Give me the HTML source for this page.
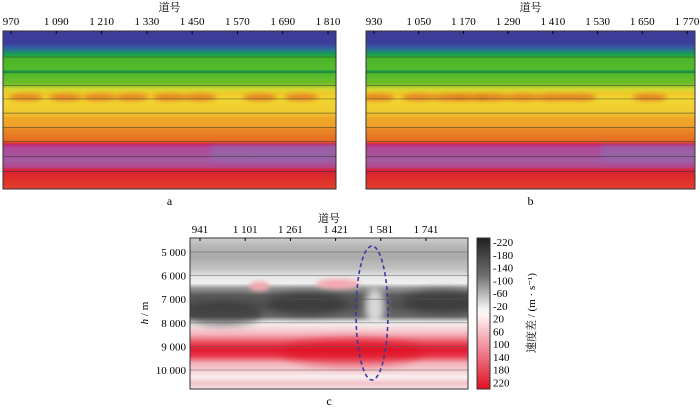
<!DOCTYPE html>
<html><head><meta charset="utf-8"><style>
body{margin:0;background:#fff;width:700px;height:408px;overflow:hidden}
svg{font-family:"Liberation Serif","Noto Serif CJK SC",serif}
</style></head><body>
<svg id="s" width="700" height="408" viewBox="0 0 700 408">
<defs>
<filter id="bl" x="-50%" y="-50%" width="200%" height="200%"><feGaussianBlur stdDeviation="2.5"/></filter>
<filter id="bl2" x="-50%" y="-50%" width="200%" height="200%"><feGaussianBlur stdDeviation="4"/></filter>
</defs>
</svg>
<script>
// data
const aTicks=["970","1 090","1 210","1 330","1 450","1 570","1 690","1 810"];
const aTickTraces=[970,1090,1210,1330,1450,1570,1690,1810];
const bTicks=["930","1 050","1 170","1 290","1 410","1 530","1 650","1 770"];
const bTickTraces=[930,1050,1170,1290,1410,1530,1650,1770];
const cTicks=["941","1 101","1 261","1 421","1 581","1 741"];
const cTickTraces=[941,1101,1261,1421,1581,1741];
const depthLabels=["5 000","6 000","7 000","8 000","9 000","10 000"];
const depthValues=[5000,6000,7000,8000,9000,10000];
const cbLabels=["-220","-180","-140","-100","-60","-20","20","60","100","140","180","220"];
// velocity-model layer colours by fractional depth (offset, colour)
const layerOffsets=[0,0.08,0.11,0.15,0.17,0.24,0.26,0.27,0.29,0.33,0.37,0.40,0.43,0.52,0.55,0.61,0.62,0.70,0.71,0.72,0.74,0.82,0.86,0.88,0.94,1];
const layerColors=["#3b3c98","#3d3f9c","#2f66a0","#18a050","#48b52a","#55bb2a","#109a48","#4cb82a","#5cbc2a","#6cbc28","#d8d830","#f0c828","#f2d830","#f0c830","#f0a828","#eea028","#e88a25","#e86a22","#e03030","#c0287a","#b04898","#a45aa0","#b04890","#d82038","#e03028","#e04030"];
// orange blobs along the layer ~y=97 (trace centres)
const aBlobs=[1010,1115,1205,1290,1390,1470,1630,1740];
const bBlobs=[940,1050,1130,1190,1250,1330,1410,1480,1670];
// difference-panel gradient (offset, colour)
const diffOffsets=[0,0.05,0.12,0.2,0.26,0.3,0.33,0.38,0.45,0.52,0.56,0.6,0.64,0.7,0.74,0.78,0.83,0.88,0.92,0.96,1];
const diffColors=["#d0d0d0","#b8b8b8","#aaaaaa","#c0c0c0","#e8e8e8","#f0f0f0","#9a9a9a","#5a5a5a","#505050","#6a6a6a","#f4f4f4","#f7d6d9","#f3b0b8","#e84050","#e01a30","#e83848","#f2b4bc","#f6d0d4","#f8f0f0","#f3c4ca","#f8e0e2"];
const pinkBlobs=[[1151,6.45],[1430,6.35]];
const darkBlobs=[[1800,7.1],[1020,7.6],[1320,7.2]];
const lightBlobs=[[1560,7.3]];

const NS="http://www.w3.org/2000/svg";
const svg=document.getElementById('s');
const defs=svg.querySelector('defs');
function mk(t,a,p){const e=document.createElementNS(NS,t);for(const k in a)e.setAttribute(k,a[k]);(p||svg).appendChild(e);return e;}
function grad(id,offs,cols){const g=mk('linearGradient',{id:id,x1:0,y1:0,x2:0,y2:1},defs);offs.forEach((o,i)=>mk('stop',{offset:o,'stop-color':cols[i]},g));}
grad('ga',layerOffsets,layerColors);
grad('gd',diffOffsets,diffColors);
const cbg=mk('linearGradient',{id:'gcb',x1:0,y1:0,x2:0,y2:1},defs);
[[0,"#202020"],[0.25,"#707070"],[0.47,"#f4f4f4"],[0.52,"#fff0f0"],[0.75,"#f08090"],[1,"#e01020"]].forEach(s=>mk('stop',{offset:s[0],'stop-color':s[1]},cbg));

function panel(name,x0,x1,y0,y1,t0,t1,ticks,traces,blobs,letter,purpleShift){
  const g=mk('g',{});
  
  
  const cp=mk('clipPath',{id:'clip-'+name},defs);mk('rect',{x:x0,y:y0,width:x1-x0,height:y1-y0},cp);
  const sx=t=>x0+8+(t-traces[0])*(x1-x0-16)/(traces[traces.length-1]-traces[0]);
  const sy=f=>y0+f*(y1-y0);
  mk('rect',{x:x0,y:y0,width:x1-x0,height:y1-y0,fill:'url(#ga)'},g);
  const inner=mk('g',{'clip-path':'url(#clip-'+name+')'},g);
  mk('rect',{x:sx(purpleShift),y:sy(0.72),width:x1-sx(purpleShift)+10,height:sy(0.82)-sy(0.72),fill:'#8a70b0',opacity:0.55,filter:'url(#bl)'},inner);
  blobs.forEach(t=>{const e=mk('ellipse',{cx:sx(t),cy:sy(0.42),rx:17,ry:3.5,fill:'#e07420',opacity:0.85,filter:'url(#bl)'},inner);
    });
  [0.165,0.26,0.345,0.43,0.52,0.61,0.70,0.795,0.89].forEach(f=>mk('line',{x1:x0,x2:x1,y1:sy(f),y2:sy(f),stroke:'#333',"stroke-width":0.7,opacity:0.7},g));
  mk('rect',{x:x0,y:y0,width:x1-x0,height:y1-y0,fill:'none',stroke:'#333','stroke-width':1},g);
  traces.forEach((t,i)=>{mk('line',{x1:sx(t),x2:sx(t),y1:y0,y2:y0+3,stroke:'#000'},g);
    const tx=mk('text',{x:sx(t),y:y0-6,'font-size':11,'text-anchor':'middle'},g);tx.textContent=ticks[i];
    });
  const tt=mk('text',{x:(x0+x1)/2,y:11,'font-size':11,'text-anchor':'middle'},g);tt.textContent='道号';
  
  const lt=mk('text',{x:(x0+x1)/2,y:205,'font-size':12,'text-anchor':'middle'},g);lt.textContent=letter;
  
}
panel('panel-a',3,336,31,189,0,0,aTicks,aTickTraces,aBlobs,'a',1500);
panel('panel-b',366,695,31,189,0,0,bTicks,bTickTraces,bBlobs,'b',1540);

// panel c
(function(){
  const x0=190,x1=468,y0=238,y1=389;
  const g=mk('g',{});
  
  
  const sx=t=>200+(t-941)*(426-200)/(1741-941);
  const sy=d=>252+(d-5000)*(370-252)/5000;
  mk('rect',{x:x0,y:y0,width:x1-x0,height:y1-y0,fill:'url(#gd)'},g);
  const cp=mk('clipPath',{id:'cc'},defs);mk('rect',{x:x0,y:y0,width:x1-x0,height:y1-y0},cp);
  const cg=mk('g',{'clip-path':'url(#cc)'},g);
  darkBlobs.forEach(b=>{const e=mk('ellipse',{cx:sx(b[0]),cy:sy(b[1]*1000),rx:40,ry:12,fill:'#303030',opacity:0.6,filter:'url(#bl2)'},cg);
    });
  lightBlobs.forEach(b=>{const e=mk('ellipse',{cx:sx(b[0]),cy:sy(b[1]*1000),rx:10,ry:18,fill:'#f0f0f0',opacity:0.85,filter:'url(#bl2)'},cg);
    });
  pinkBlobs.forEach(b=>{const e=mk('ellipse',{cx:sx(b[0]),cy:sy(b[1]*1000),rx:b[0]>1300?22:10,ry:5,fill:'#f4a8b0',filter:'url(#bl)'},cg);
    });
  mk('ellipse',{cx:sx(1480),cy:sy(9250),rx:70,ry:14,fill:'#e01020',opacity:0.5,filter:'url(#bl2)'},cg);
  depthValues.forEach((d,i)=>{mk('line',{x1:x0,x2:x1,y1:sy(d),y2:sy(d),stroke:'#555','stroke-width':0.8,opacity:0.6},g);
    const t=mk('text',{x:x0-4,y:sy(d)+4,'font-size':11,'text-anchor':'end'},g);t.textContent=depthLabels[i];
    });
  mk('rect',{x:x0,y:y0,width:x1-x0,height:y1-y0,fill:'none',stroke:'#333'},g);
  cTickTraces.forEach((t,i)=>{mk('line',{x1:sx(t),x2:sx(t),y1:y0,y2:y0+3,stroke:'#000'},g);
    const tx=mk('text',{x:sx(t),y:y0-5,'font-size':11,'text-anchor':'middle'},g);tx.textContent=cTicks[i];
    });
  const tt=mk('text',{x:329,y:222,'font-size':11,'text-anchor':'middle'},g);tt.textContent='道号';
  
  const yt=mk('text',{x:148,y:313,'font-size':11,'text-anchor':'middle',transform:'rotate(-90 148 313)'},g);
  yt.innerHTML='<tspan font-style="italic">h</tspan> / m';
  
  const el=mk('ellipse',{cx:372,cy:313,rx:16,ry:67,fill:'none',stroke:'#3a3aa0','stroke-width':1.6,'stroke-dasharray':'4 3'},g);
  
  const lt=mk('text',{x:329,y:405,'font-size':12,'text-anchor':'middle'},g);lt.textContent='c';
  
  const cb=mk('g',{});
  
  
  mk('rect',{x:477,y:238,width:13,height:151,fill:'url(#gcb)',stroke:'#333'},cb);
  cbLabels.forEach((l,i)=>{const t=mk('text',{x:493,y:246+i*12.75,'font-size':11},cb);t.textContent=l;
    });
  const ct=mk('text',{x:535,y:313,'font-size':11,'text-anchor':'middle',transform:'rotate(-90 535 313)'},cb);
  ct.textContent='速度差 / (m · s⁻¹)';
  
})();
</script>
</body></html>
